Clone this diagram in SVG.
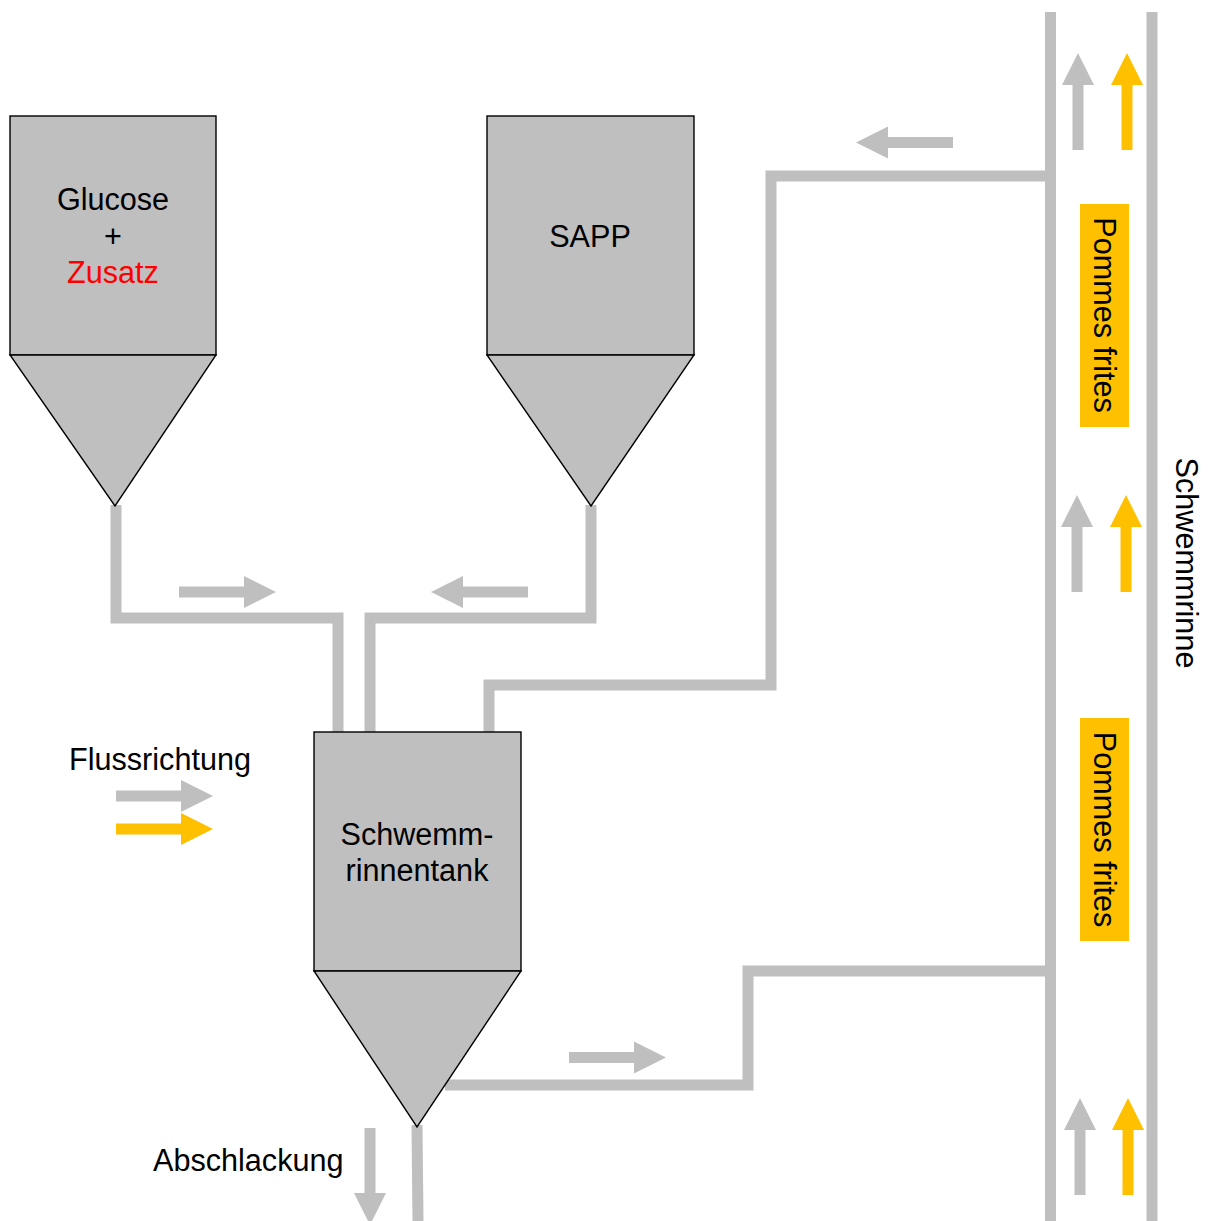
<svg xmlns="http://www.w3.org/2000/svg" xmlns:xlink="http://www.w3.org/1999/xlink" width="1209" height="1221" viewBox="0 0 1209 1221">
  <style>
    .pipe { fill: none; stroke: #BFBFBF; stroke-width: 11; stroke-linejoin: miter; stroke-linecap: butt; }
    .vessel { fill: #BFBFBF; stroke: #000000; stroke-width: 1.4; }
    .lbl { font-family: "Liberation Sans", Arial, sans-serif; font-size: 30.6px; fill: #000000; }
    .mid { text-anchor: middle; }
    .red { fill: #FF0000; }
    .gray { fill: #BFBFBF; }
    .yellow { fill: #FFC000; }
  </style>
  <defs>
    <!-- flow arrow pointing along +x, tip at origin -->
    <path id="arr" d="M-97,-5.5 H-32 V-16 L0,0 L-32,16 V5.5 H-97 Z"/>
  </defs>

  <!-- pipes and flow arrows -->
  <g id="connectors">
    <path class="pipe" d="M116,505 V618 H338 V733"/>
    <path class="pipe" d="M591,505 V618 H370 V733"/>
    <path class="pipe" d="M489,733 V685 H771 V176 H1050"/>
    <path class="pipe" d="M445,1085 H748 V971 H1050"/>
    <path class="pipe" d="M417,1125 L418,1221"/>

    <use href="#arr" class="gray" transform="translate(276,592)"/>
    <use href="#arr" class="gray" transform="translate(431,592) rotate(180)"/>
    <use href="#arr" class="gray" transform="translate(856,142.5) rotate(180)"/>
    <use href="#arr" class="gray" transform="translate(666,1057.5)"/>
    <use href="#arr" class="gray" transform="translate(370,1225) rotate(90)"/>
  </g>

  <!-- flume (Schwemmrinne) -->
  <g id="flume">
    <line class="pipe" x1="1050.5" y1="12" x2="1050.5" y2="1221"/>
    <line class="pipe" x1="1152" y1="12" x2="1152" y2="1221"/>
    <use href="#arr" class="gray" transform="translate(1078,53) rotate(-90)"/>
    <use href="#arr" class="yellow" transform="translate(1127,53) rotate(-90)"/>
    <use href="#arr" class="gray" transform="translate(1077,495) rotate(-90)"/>
    <use href="#arr" class="yellow" transform="translate(1126,495) rotate(-90)"/>
    <use href="#arr" class="gray" transform="translate(1080,1098) rotate(-90)"/>
    <use href="#arr" class="yellow" transform="translate(1128,1098) rotate(-90)"/>
    <text class="lbl mid" transform="translate(1186,563) rotate(90)" x="0" y="10">Schwemmrinne</text>
  </g>

  <g id="fries-1">
    <rect class="yellow" x="1080" y="204" width="49" height="223"/>
    <text class="lbl mid" transform="translate(1104,315) rotate(90)" x="0" y="10">Pommes frites</text>
  </g>
  <g id="fries-2">
    <rect class="yellow" x="1080" y="718" width="49" height="223"/>
    <text class="lbl mid" transform="translate(1104,829.5) rotate(90)" x="0" y="10">Pommes frites</text>
  </g>

  <!-- dosing hopper: glucose -->
  <g id="hopper-glucose">
    <rect class="vessel" x="10" y="116" width="206" height="239"/>
    <path class="vessel" d="M10,355 H216 L115,506 Z"/>
    <text class="lbl mid" x="113" y="210">Glucose</text>
    <text class="lbl mid" x="113" y="247">+</text>
    <text class="lbl mid red" x="113" y="283">Zusatz</text>
  </g>

  <!-- dosing hopper: SAPP -->
  <g id="hopper-sapp">
    <rect class="vessel" x="487" y="116" width="207" height="239"/>
    <path class="vessel" d="M487,355 H694 L591,506 Z"/>
    <text class="lbl mid" x="590" y="247">SAPP</text>
  </g>

  <!-- flume tank -->
  <g id="tank">
    <rect class="vessel" x="314" y="732" width="207" height="239"/>
    <path class="vessel" d="M314,971 H521 L417,1127 Z"/>
    <text class="lbl mid" x="417" y="845">Schwemm-</text>
    <text class="lbl mid" x="417" y="881">rinnentank</text>
  </g>

  <!-- legend -->
  <g id="legend">
    <text class="lbl" x="69" y="770">Flussrichtung</text>
    <use href="#arr" class="gray" transform="translate(213,796)"/>
    <use href="#arr" class="yellow" transform="translate(213,829)"/>
  </g>

  <g id="label-slag">
    <text class="lbl" x="153" y="1171">Abschlackung</text>
  </g>
</svg>
